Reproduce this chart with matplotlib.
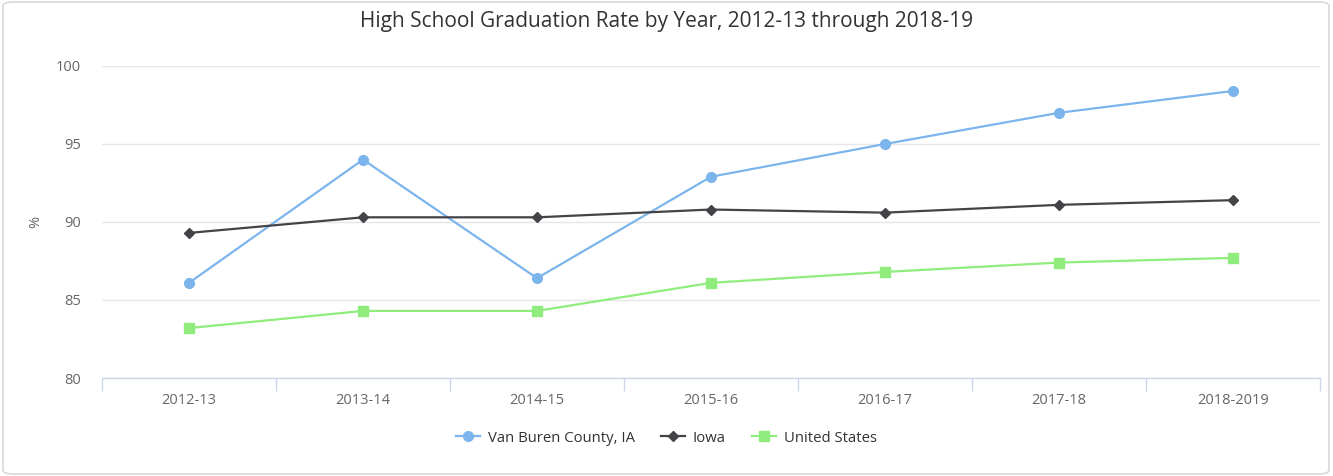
import matplotlib.pyplot as plt
from matplotlib.lines import Line2D
from matplotlib.patches import FancyBboxPatch

years = ["2012-13", "2013-14", "2014-15", "2015-16", "2016-17", "2017-18", "2018-2019"]
van_buren = [86.1, 94.0, 86.4, 92.9, 95.0, 97.0, 98.4]
iowa = [89.3, 90.3, 90.3, 90.8, 90.6, 91.1, 91.4]
united_states = [83.2, 84.3, 84.3, 86.1, 86.8, 87.4, 87.7]

series = [
    ("Van Buren County, IA", van_buren, "#7cb5ec", "o", 7),
    ("Iowa", iowa, "#434348", "D", 5),
    ("United States", united_states, "#90ed7d", "s", 7),
]

plt.rcParams['font.family'] = ['Open Sans', 'DejaVu Sans']

W, H = 1333, 476
fig = plt.figure(figsize=(W / 100, H / 100), dpi=100)

# rounded container border
fig.patches.append(FancyBboxPatch((3 / W, 2 / H), 1 - 7 / W, 1 - 4 / H,
                                  boxstyle="round,pad=0,rounding_size=0.008",
                                  transform=fig.transFigure, fc="white",
                                  ec="#d8d8d8", lw=1.2, zorder=-1))

ax = fig.add_axes([102 / W, 1 - 378 / H, (1320 - 102) / W, (378 - 66) / H])
ax.set_facecolor("none")

x = list(range(len(years)))
for name, vals, color, marker, ms in series:
    ax.plot(x, vals, color=color, lw=1.6, marker=marker, ms=ms,
            mec=color, mfc=color, label=name, zorder=3)

ax.set_xlim(-0.5, len(years) - 0.5)
ax.set_ylim(80, 100)
ax.set_yticks([80, 85, 90, 95, 100])
ax.grid(axis="y", color="#e6e6e6", lw=1)
ax.set_axisbelow(True)

for side in ["top", "right", "left"]:
    ax.spines[side].set_visible(False)
ax.spines["bottom"].set_color("#ccd6eb")
ax.spines["bottom"].set_linewidth(1)

ax.set_xticks(x)
ax.set_xticklabels(years)
ax.tick_params(axis="x", length=0, pad=11, labelsize=10.5, labelcolor="#666666")
ax.set_xticks([i - 0.5 for i in range(len(years) + 1)], minor=True)
ax.tick_params(axis="x", which="minor", length=9, color="#ccd6eb", width=1)
ax.tick_params(axis="y", length=0, pad=15, labelsize=10.5, labelcolor="#666666")

ax.set_ylabel("%", color="#666666", fontsize=10.5)
ax.yaxis.set_label_coords((43 - 102) / (1320 - 102), 0.5)

fig.text(0.5, 1 - 22 / H, "High School Graduation Rate by Year, 2012-13 through 2018-19",
         ha="center", va="center", fontsize=15, color="#333333")

handles = [Line2D([], [], color=c, lw=1.6, marker=m, ms=ms, mec=c, mfc=c)
           for _, _, c, m, ms in series]
fig.legend(handles, [s[0] for s in series], loc="center",
           bbox_to_anchor=(0.5, 1 - 438 / H), ncol=3, frameon=False,
           fontsize=10.7, labelcolor="#333333", handlelength=1.6,
           handletextpad=0.5, columnspacing=1.8)

fig.savefig("out.png", dpi=100)
